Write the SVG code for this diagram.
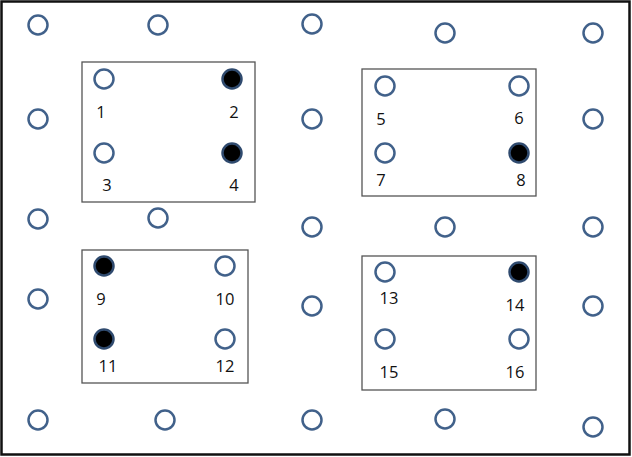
<svg xmlns="http://www.w3.org/2000/svg" width="632" height="457" viewBox="0 0 632 457">
<style>
.o{fill:#fff;stroke:#41618a;stroke-width:2.5}
.f{fill:#000;stroke:#2f4a6e;stroke-width:2.5}
.b{fill:#fff;stroke:#555;stroke-width:1.3}
text{font-family:"Open Sans","Liberation Sans",sans-serif;font-size:16.5px;fill:#111;text-anchor:middle}
</style>
<rect x="1.5" y="1.5" width="628" height="453" fill="#fff" stroke="#111" stroke-width="2.5"/>
<g id="grid">
<circle class="o" cx="38" cy="25" r="9.5"/>
<circle class="o" cx="158" cy="25" r="9.5"/>
<circle class="o" cx="312" cy="24" r="9.5"/>
<circle class="o" cx="445" cy="33" r="9.5"/>
<circle class="o" cx="593" cy="33" r="9.5"/>
<circle class="o" cx="38" cy="119" r="9.5"/>
<circle class="o" cx="312" cy="119" r="9.5"/>
<circle class="o" cx="593" cy="119" r="9.5"/>
<circle class="o" cx="38" cy="219" r="9.5"/>
<circle class="o" cx="158" cy="218" r="9.5"/>
<circle class="o" cx="312" cy="227" r="9.5"/>
<circle class="o" cx="445" cy="227" r="9.5"/>
<circle class="o" cx="593" cy="227" r="9.5"/>
<circle class="o" cx="38" cy="299" r="9.5"/>
<circle class="o" cx="312" cy="306" r="9.5"/>
<circle class="o" cx="593" cy="306" r="9.5"/>
<circle class="o" cx="38" cy="420" r="9.5"/>
<circle class="o" cx="165" cy="420" r="9.5"/>
<circle class="o" cx="312" cy="420" r="9.5"/>
<circle class="o" cx="445" cy="419" r="9.5"/>
<circle class="o" cx="593" cy="427" r="9.5"/>
</g>
<g id="box1">
<rect class="b" x="82" y="62" width="173" height="140"/>
<circle class="o" cx="104" cy="79" r="9.5"/>
<circle class="f" cx="232" cy="79" r="9.5"/>
<circle class="o" cx="104" cy="153" r="9.5"/>
<circle class="f" cx="232" cy="153" r="9.5"/>
<text x="101" y="118">1</text>
<text x="234" y="118">2</text>
<text x="107" y="191">3</text>
<text x="234" y="191">4</text>
</g>
<g id="box2">
<rect class="b" x="362" y="69" width="174" height="127"/>
<circle class="o" cx="385" cy="86" r="9.5"/>
<circle class="o" cx="519" cy="86" r="9.5"/>
<circle class="o" cx="385" cy="153" r="9.5"/>
<circle class="f" cx="519" cy="153" r="9.5"/>
<text x="381" y="125">5</text>
<text x="519" y="124">6</text>
<text x="381" y="186">7</text>
<text x="521" y="186">8</text>
</g>
<g id="box3">
<rect class="b" x="82" y="250" width="166" height="133"/>
<circle class="f" cx="104" cy="266" r="9.5"/>
<circle class="o" cx="225" cy="266" r="9.5"/>
<circle class="f" cx="104" cy="339" r="9.5"/>
<circle class="o" cx="225" cy="339" r="9.5"/>
<text x="101" y="305">9</text>
<text x="225" y="305">10</text>
<text x="108" y="372">11</text>
<text x="225" y="372">12</text>
</g>
<g id="box4">
<rect class="b" x="362" y="256" width="174" height="134"/>
<circle class="o" cx="385" cy="272" r="9.5"/>
<circle class="f" cx="519" cy="272" r="9.5"/>
<circle class="o" cx="385" cy="339" r="9.5"/>
<circle class="o" cx="519" cy="339" r="9.5"/>
<text x="389" y="304">13</text>
<text x="515" y="311">14</text>
<text x="389" y="378">15</text>
<text x="515" y="378">16</text>
</g>
<g id="connectors"></g>
</svg>
